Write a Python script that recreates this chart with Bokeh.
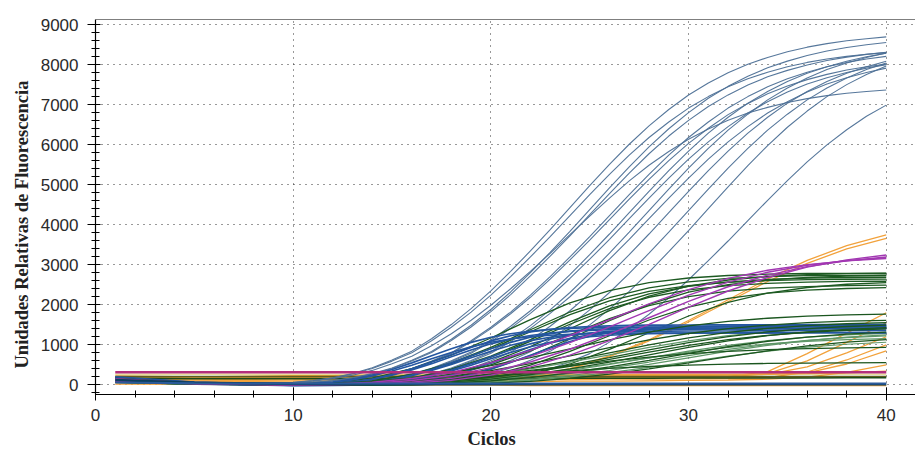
from bokeh.plotting import figure
from bokeh.models import SingleIntervalTicker, Span, Range1d, Title
from bokeh.embed import file_html
from bokeh.resources import INLINE

# cycle grids
ciclos_fino = [1, 5, 10, 11, 12, 13, 14, 15, 16, 17, 18, 19, 20, 21, 22, 23, 24, 25, 26, 27, 28,
               29, 30, 31, 32, 33, 34, 35, 36, 37, 38, 39, 40]
ciclos = [1, 5, 10, 12, 14, 16, 18, 20, 22, 24, 26, 28, 30, 32, 34, 36, 38, 40]

# high blue curves (RFU), one value per cycle of ciclos_fino
azul_alto = [
    [150, 40, 62, 106, 177, 283, 425, 620, 841, 1151, 1505, 1903, 2345, 2832, 3345, 3876, 4425, 4974, 5505, 6009, 6469, 6876, 7239, 7540, 7797, 8009, 8177, 8319, 8434, 8523, 8593, 8646, 8691],
    [120, 30, 59, 101, 169, 270, 406, 592, 803, 1099, 1437, 1817, 2239, 2704, 3194, 3701, 4225, 4749, 5256, 5738, 6177, 6566, 6912, 7199, 7444, 7647, 7808, 7943, 8053, 8137, 8205, 8256, 8298],
    [90, 20, 53, 90, 150, 240, 360, 525, 713, 975, 1275, 1613, 1988, 2400, 2835, 3285, 3750, 4215, 4665, 5093, 5483, 5828, 6135, 6390, 6608, 6788, 6930, 7050, 7148, 7223, 7283, 7328, 7365],
    [100, 25, 34, 60, 102, 170, 272, 408, 595, 808, 1105, 1445, 1828, 2253, 2720, 3213, 3723, 4250, 4777, 5287, 5772, 6214, 6605, 6953, 7242, 7489, 7693, 7854, 7990, 8101, 8186, 8254, 8305],
    [160, 45, 35, 61, 105, 175, 280, 420, 613, 831, 1138, 1488, 1881, 2319, 2800, 3308, 3833, 4375, 4918, 5443, 5941, 6396, 6799, 7158, 7455, 7709, 7919, 8085, 8225, 8339, 8426, 8496, 8549],
    [80, 15, 0, 34, 59, 101, 169, 270, 406, 592, 803, 1099, 1437, 1817, 2239, 2704, 3194, 3701, 4225, 4749, 5256, 5738, 6177, 6566, 6912, 7199, 7444, 7647, 7808, 7943, 8053, 8137, 8205],
    [130, 35, -10, 33, 58, 99, 165, 264, 396, 578, 784, 1073, 1403, 1774, 2186, 2640, 3119, 3614, 4125, 4637, 5132, 5602, 6031, 6410, 6749, 7029, 7268, 7466, 7623, 7755, 7862, 7945, 8011],
    [70, 10, -5, -5, 33, 58, 100, 166, 266, 398, 581, 789, 1079, 1411, 1785, 2200, 2656, 3137, 3635, 4150, 4665, 5163, 5636, 6067, 6449, 6789, 7072, 7312, 7512, 7669, 7802, 7910, 7993],
    [110, 30, 5, 0, 34, 60, 103, 172, 275, 413, 602, 817, 1118, 1462, 1849, 2279, 2752, 3251, 3767, 4300, 4833, 5349, 5839, 6287, 6682, 7035, 7327, 7577, 7783, 7946, 8084, 8196, 8282],
    [140, 40, 0, -5, -10, 33, 58, 100, 166, 266, 398, 581, 789, 1079, 1411, 1785, 2200, 2656, 3137, 3635, 4150, 4665, 5163, 5636, 6067, 6449, 6789, 7072, 7312, 7512, 7669, 7802, 7910],
    [60, 10, -10, -5, 0, 35, 61, 104, 174, 278, 418, 609, 827, 1131, 1479, 1871, 2306, 2784, 3289, 3811, 4350, 4889, 5411, 5907, 6360, 6760, 7117, 7412, 7665, 7874, 8039, 8178, 8291],
    [100, 20, -5, -10, -5, 0, 34, 60, 103, 172, 275, 413, 602, 817, 1118, 1462, 1849, 2279, 2752, 3251, 3767, 4300, 4833, 5349, 5839, 6287, 6682, 7035, 7327, 7577, 7783, 7946, 8084],
    [170, 50, 10, 5, 0, -5, -10, 35, 61, 104, 174, 278, 418, 609, 827, 1131, 1479, 1871, 2306, 2784, 3289, 3811, 4350, 4889, 5411, 5907, 6360, 6760, 7117, 7412, 7665, 7874, 8039],
    [90, 20, -10, -15, -15, -10, -5, 0, 35, 62, 106, 176, 282, 422, 616, 836, 1144, 1496, 1892, 2332, 2816, 3326, 3854, 4400, 4946, 5474, 5975, 6433, 6838, 7198, 7498, 7753, 7964],
    [120, 30, 0, -5, -10, -10, -10, -5, 0, 0, 33, 57, 98, 164, 262, 394, 574, 779, 1066, 1394, 1763, 2173, 2624, 3100, 3592, 4100, 4608, 5100, 5568, 5994, 6371, 6708, 6986],
]

# blue curves with an early plateau, one value per cycle of ciclos_fino
azul_meseta = [
    [180, 60, 10, 29, 70, 138, 247, 384, 548, 725, 902, 1060, 1186, 1277, 1340, 1382, 1408, 1424, 1434, 1440, 1443, 1445, 1446, 1448, 1450, 1452, 1454, 1456, 1458, 1460, 1462, 1464, 1465],
    [140, 40, 0, 10, 28, 67, 133, 238, 371, 529, 700, 871, 1023, 1145, 1233, 1294, 1334, 1359, 1375, 1385, 1390, 1393, 1395, 1396, 1397, 1398, 1399, 1400, 1401, 1402, 1403, 1404, 1406],
    [200, 70, 0, 11, 30, 72, 143, 255, 398, 567, 750, 933, 1097, 1227, 1322, 1386, 1430, 1457, 1473, 1484, 1490, 1492, 1494, 1496, 1497, 1498, 1500, 1501, 1503, 1504, 1506, 1508, 1510],
    [110, 30, 0, 0, 9, 27, 65, 128, 230, 358, 510, 675, 840, 987, 1104, 1189, 1247, 1287, 1311, 1326, 1335, 1341, 1343, 1345, 1346, 1347, 1348, 1349, 1349, 1350, 1350, 1351, 1351],
    [160, 50, -5, 0, 10, 29, 70, 138, 247, 384, 548, 725, 902, 1060, 1186, 1277, 1340, 1382, 1408, 1424, 1434, 1440, 1443, 1445, 1446, 1447, 1448, 1449, 1449, 1450, 1451, 1451, 1452],
    [130, 40, -15, -10, -5, 10, 28, 67, 133, 238, 371, 529, 700, 871, 1023, 1145, 1233, 1294, 1334, 1359, 1375, 1385, 1390, 1393, 1395, 1396, 1397, 1398, 1399, 1400, 1401, 1401, 1402],
    [90, 20, -20, -15, -10, 9, 26, 62, 124, 221, 345, 491, 650, 809, 950, 1063, 1145, 1201, 1239, 1262, 1277, 1286, 1291, 1293, 1295, 1296, 1297, 1298, 1299, 1300, 1300, 1300, 1300],
    [150, 45, -10, -10, -5, 0, 10, 28, 68, 135, 241, 376, 537, 710, 883, 1038, 1162, 1251, 1312, 1353, 1379, 1394, 1404, 1410, 1413, 1415, 1416, 1417, 1418, 1419, 1420, 1420, 1420],
    [120, 35, 9, 26, 62, 124, 221, 345, 491, 650, 809, 950, 1063, 1145, 1201, 1239, 1262, 1277, 1286, 1291, 1293, 1294, 1295, 1296, 1297, 1298, 1298, 1299, 1299, 1300, 1300, 1300, 1300],
    [170, 55, -10, -15, -15, -10, -5, 10, 30, 71, 141, 252, 392, 559, 740, 921, 1082, 1211, 1304, 1368, 1410, 1437, 1453, 1464, 1470, 1473, 1475, 1476, 1477, 1478, 1479, 1480, 1480],
]

# green curves, upper plateau (values on ciclos)
verde_alto = [
    [100, 30, 14, 56, 168, 406, 742, 1170, 1630, 2047, 2355, 2551, 2668, 2730, 2764, 2780, 2786, 2789],
    [140, 40, 0, 28, 102, 261, 550, 935, 1375, 1818, 2175, 2423, 2571, 2657, 2701, 2725, 2736, 2742],
    [80, 20, -10, 27, 98, 252, 530, 901, 1325, 1752, 2096, 2335, 2478, 2560, 2602, 2626, 2637, 2642],
    [120, 35, 0, 14, 54, 162, 392, 716, 1129, 1571, 1974, 2271, 2460, 2573, 2633, 2665, 2681, 2687],
    [60, 15, -5, 13, 52, 156, 377, 689, 1087, 1513, 1901, 2187, 2369, 2478, 2535, 2566, 2582, 2587],
    [150, 45, 10, 0, 28, 104, 266, 560, 952, 1400, 1851, 2215, 2467, 2618, 2705, 2750, 2775, 2786],
    [90, 25, -10, -5, 25, 93, 238, 500, 850, 1250, 1653, 1978, 2203, 2338, 2415, 2455, 2478, 2488],
    [130, 40, 0, -10, 14, 55, 165, 399, 729, 1150, 1601, 2010, 2313, 2505, 2621, 2681, 2714, 2731],
    [70, 20, -5, -10, 0, 25, 91, 233, 490, 833, 1225, 1619, 1938, 2158, 2291, 2367, 2406, 2428],
    [110, 30, 0, -5, -10, 0, 26, 96, 247, 520, 884, 1300, 1719, 2057, 2291, 2431, 2512, 2553],
]

# green curves, lower plateau, dark (values on ciclos)
verde_bajo = [
    [150, 50, 13, 36, 86, 171, 306, 477, 680, 900, 1120, 1316, 1472, 1586, 1663, 1715, 1748, 1768],
    [100, 30, 7, 20, 53, 116, 215, 355, 528, 723, 927, 1120, 1282, 1406, 1493, 1551, 1589, 1612],
    [120, 40, 0, 11, 32, 77, 152, 272, 424, 605, 800, 995, 1170, 1309, 1410, 1478, 1525, 1554],
    [160, 50, 5, 6, 19, 50, 109, 202, 333, 496, 679, 871, 1052, 1204, 1321, 1403, 1457, 1493],
    [90, 25, -5, 6, 17, 46, 102, 189, 312, 464, 635, 815, 985, 1127, 1235, 1312, 1363, 1396],
    [130, 40, 0, 0, 11, 30, 72, 143, 255, 398, 567, 750, 933, 1097, 1227, 1322, 1386, 1430],
    [110, 35, 0, -5, 6, 17, 45, 98, 182, 301, 448, 613, 787, 951, 1088, 1193, 1267, 1316],
    [100, 30, -10, -10, -5, 5, 15, 40, 88, 163, 269, 400, 548, 703, 849, 971, 1065, 1131],
    [90, 25, 7, 19, 46, 90, 162, 252, 359, 475, 591, 694, 777, 837, 878, 905, 922, 933],
    [70, 20, 11, 27, 53, 95, 148, 212, 280, 348, 409, 458, 493, 517, 534, 544, 550, 554],
]

# green curves, lower plateau, light (values on ciclos)
verde_claro = [
    [70, 20, -10, 11, 30, 72, 143, 255, 398, 567, 750, 933, 1097, 1227, 1322, 1386, 1430, 1457],
    [80, 20, -10, -5, 9, 27, 65, 128, 230, 358, 510, 675, 840, 987, 1104, 1189, 1247, 1287],
    [60, 15, -5, -10, 5, 16, 42, 91, 169, 280, 416, 569, 731, 883, 1010, 1108, 1177, 1222],
    [140, 45, 0, -5, -5, 9, 27, 65, 128, 230, 358, 510, 675, 840, 987, 1104, 1189, 1247],
    [120, 35, -5, 0, 0, 8, 23, 55, 109, 196, 305, 435, 575, 715, 841, 941, 1013, 1063],
    [80, 20, 0, 5, 14, 38, 84, 156, 258, 384, 526, 674, 815, 932, 1022, 1086, 1128, 1156],
]

# purple curves (values on ciclos)
morado = [
    [130, 40, 0, 13, 40, 106, 231, 429, 710, 1056, 1445, 1855, 2241, 2564, 2812, 2987, 3102, 3178],
    [100, 30, 0, 0, 23, 67, 161, 318, 570, 888, 1266, 1675, 2084, 2449, 2740, 2951, 3095, 3193],
    [80, 25, -5, 0, 14, 41, 110, 242, 449, 742, 1104, 1511, 1939, 2343, 2681, 2939, 3122, 3243],
    [150, 45, 0, 23, 65, 156, 309, 553, 861, 1229, 1625, 2022, 2376, 2659, 2863, 3003, 3097, 3156],
]

# orange curves (values on ciclos)
naranja = [
    [120, 30, 0, 0, 0, 0, 30, 85, 204, 404, 723, 1126, 1607, 2125, 2644, 3107, 3477, 3744],
    [90, 20, 0, 0, 0, 0, 29, 83, 199, 394, 706, 1100, 1569, 2075, 2581, 3034, 3395, 3656],
    [150, 120, 150, 150, 160, 160, 170, 170, 180, 180, 190, 190, 200, 210, 330, 780, 1290, 1800],
    [130, 100, 120, 130, 130, 140, 140, 150, 150, 160, 160, 170, 180, 200, 280, 600, 1060, 1550],
    [180, 150, 180, 190, 190, 200, 200, 210, 210, 220, 220, 230, 230, 240, 260, 450, 800, 1200],
    [100, 80, 90, 100, 110, 110, 120, 120, 130, 130, 140, 140, 150, 160, 180, 320, 620, 1000],
    [200, 170, 200, 200, 210, 210, 220, 220, 230, 230, 240, 240, 250, 250, 260, 300, 520, 850],
    [60, 40, 50, 60, 60, 70, 70, 80, 80, 90, 90, 100, 110, 120, 140, 190, 310, 500],
    [220, 200, 230, 230, 240, 240, 240, 250, 250, 250, 250, 260, 260, 260, 270, 280, 300, 340],
    [20, 10, 0, 0, 0, -10, -10, -10, -20, -20, -20, -20, -20, -20, -20, -20, -20, -20],
]

# non-amplifying (flat) traces (values on ciclos)
plano_magenta = [315, 315, 315, 315, 315, 315, 315, 315, 315, 315, 315, 315, 315, 315, 315, 315, 315, 315]
plano_amarillo = [262, 262, 262, 262, 262, 262, 262, 262, 262, 262, 262, 262, 262, 262, 262, 262, 262, 262]
plano_oliva = [205, 205, 205, 205, 205, 205, 205, 205, 205, 205, 205, 205, 205, 205, 205, 205, 205, 205]
plano_verde = [160, 150, 150, 150, 155, 155, 160, 160, 160, 165, 165, 165, 170, 170, 170, 170, 175, 175]
plano_azul = [60, 40, 30, 30, 30, 30, 30, 30, 30, 30, 30, 30, 30, 30, 30, 30, 30, 30]
plano_teal = [120, 50, 20, 15, 15, 15, 15, 15, 15, 15, 15, 15, 15, 15, 15, 15, 15, 15]

x_tick_interval = 10
y_tick_interval = 1000

p = figure(width=915, height=453, output_backend="svg", toolbar_location=None,
           x_range=Range1d(0, 41.48), y_range=Range1d(-242, 9125),
           min_border_left=95, min_border_right=0, min_border_top=19, min_border_bottom=59)
p.outline_line_color = None
p.background_fill_color = "white"
p.border_fill_color = "white"


def add_group(xgrid, curves, color, width, alpha=1.0):
    p.multi_line(xs=[xgrid] * len(curves), ys=curves, line_color=color,
                 line_width=width, line_alpha=alpha)


add_group(ciclos, [plano_amarillo], "#e8df9a", 1.6)
add_group(ciclos, naranja, "#f2a23c", 1.3)
add_group(ciclos, [plano_oliva], "#5e5e1c", 1.6)
add_group(ciclos, [plano_verde], "#1a4a1a", 1.6)
add_group(ciclos_fino, azul_alto, "#4d7096", 1.1, 0.95)
add_group(ciclos, verde_alto, "#1d5a22", 1.3)
add_group(ciclos, verde_claro, "#5f9768", 1.2)
add_group(ciclos_fino, azul_meseta, "#2456a0", 1.6)
add_group(ciclos, verde_bajo, "#1b561f", 1.3)
add_group(ciclos, morado, "#a238b2", 1.4)
add_group(ciclos, [plano_teal], "#0c3f5c", 2.5)
add_group(ciclos, [plano_azul], "#2a5a9a", 2.0)
add_group(ciclos, [plano_magenta], "#b32f7b", 2.4)

# axes
p.xaxis.ticker = SingleIntervalTicker(interval=x_tick_interval, num_minor_ticks=5)
p.yaxis.ticker = SingleIntervalTicker(interval=y_tick_interval, num_minor_ticks=5)
p.xgrid.ticker = p.xaxis.ticker
p.ygrid.ticker = p.yaxis.ticker
for g in (p.xgrid, p.ygrid):
    g.grid_line_color = "#333333"
    g.grid_line_dash = "1 5"
    g.grid_line_width = 1
    g.level = "underlay"

for ax in (p.xaxis, p.yaxis):
    ax.axis_line_color = "black"
    ax.axis_line_width = 1.2
    ax.major_tick_line_color = "black"
    ax.minor_tick_line_color = "black"
    ax.major_label_text_font = "Liberation Sans"
    ax.major_label_text_font_size = "17px"
    ax.major_label_text_color = "#2a2a2a"

p.xaxis.major_tick_in = 7
p.xaxis.major_tick_out = 6
p.xaxis.minor_tick_in = 4
p.xaxis.minor_tick_out = 3
p.xaxis.major_label_standoff = 8
p.yaxis.major_tick_in = 5
p.yaxis.major_tick_out = 8
p.yaxis.minor_tick_in = 4
p.yaxis.minor_tick_out = 4
p.yaxis.major_label_standoff = 9

# axis titles (side titles, offset from the frame start like the original)
p.add_layout(Title(text="Ciclos", align="left", offset=372, standoff=6,
                   text_font="Liberation Serif", text_font_style="bold",
                   text_font_size="18.5px", text_color="#222222"), "below")
p.add_layout(Title(text="Unidades Relativas de Fluorescencia", align="left", offset=26,
                   standoff=12, text_font="Liberation Serif", text_font_style="bold",
                   text_font_size="18.5px", text_color="#222222"), "left")

p.add_layout(Span(location=9125, dimension="width", line_color="black", line_width=1.2))

open("out.html", "w").write(file_html(p, INLINE))
